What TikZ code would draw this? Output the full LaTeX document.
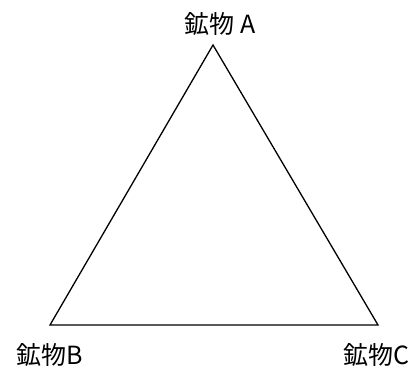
\documentclass[tikz,border=0pt]{standalone}
\usepackage{fontspec}
\setmainfont{Noto Sans CJK JP}
\begin{document}
\begin{tikzpicture}[x=1pt,y=-1pt,
  lbl/.style={inner sep=0pt, font=\fontsize{25}{25}\selectfont},
  edge/.style={line width=1.3pt, line join=miter}]
\useasboundingbox (0,0) rectangle (419,369);
\coordinate (A) at (213,45);
\coordinate (B) at (50,325);
\coordinate (C) at (378,325);
\draw[edge] (A) -- (B) -- (C) -- cycle;
\node[lbl] (la) at (220,24) {鉱物 A};
\node[lbl] (lb) at (50,355) {鉱物B};
\node[lbl] (lc) at (376,355) {鉱物C};
\end{tikzpicture}
\end{document}
